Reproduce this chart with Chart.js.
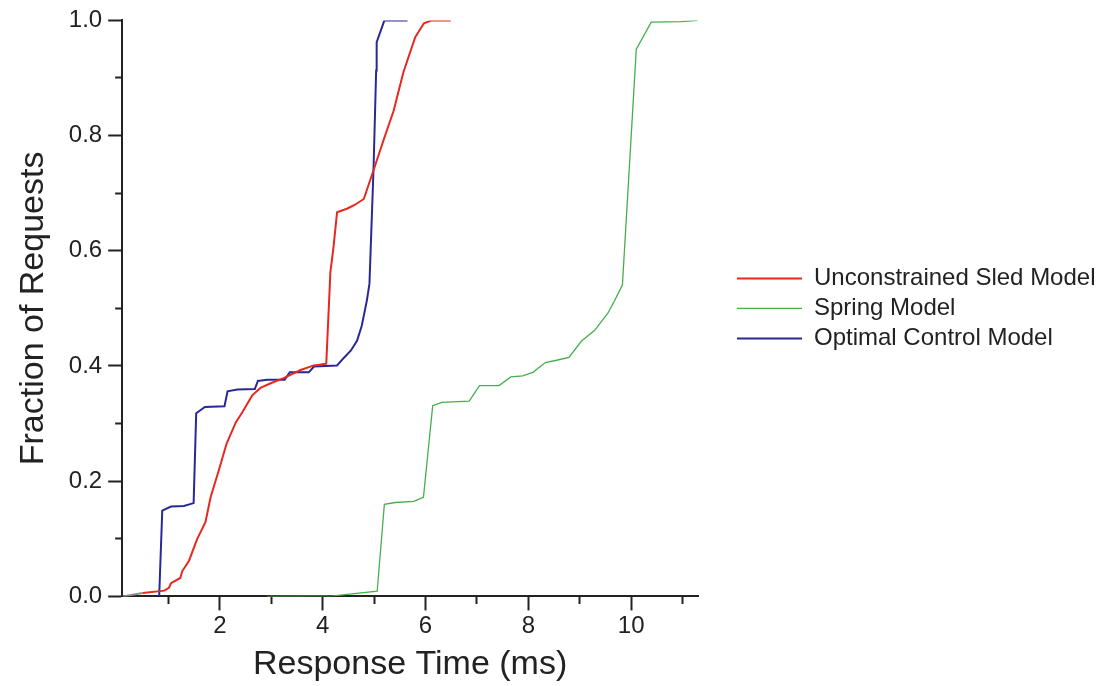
<!DOCTYPE html>
<html>
<head>
<meta charset="utf-8">
<script src="https://cdn.jsdelivr.net/npm/chart.js@4"></script>
<style>
  html, body { margin: 0; padding: 0; background: #fff; }
  #wrap { width: 1100px; height: 686px; }
</style>
</head>
<body>
<div id="wrap"><canvas id="myChart"></canvas></div>
<script>
const sledX = [0.11, 0.50, 0.92, 1.01, 1.05, 1.23, 1.27, 1.40, 1.56, 1.72, 1.82, 1.98, 2.13, 2.31, 2.44, 2.63, 2.79, 2.99, 3.24, 3.57, 3.83, 4.07, 4.15, 4.21, 4.28, 4.47, 4.63, 4.80, 4.91, 5.02, 5.18, 5.38, 5.57, 5.80, 5.97, 6.12, 6.49];
const sledY = [0, 0.006, 0.010, 0.015, 0.023, 0.032, 0.044, 0.062, 0.100, 0.129, 0.172, 0.219, 0.265, 0.302, 0.320, 0.349, 0.362, 0.370, 0.379, 0.393, 0.401, 0.404, 0.563, 0.606, 0.667, 0.673, 0.680, 0.690, 0.719, 0.748, 0.791, 0.843, 0.910, 0.971, 0.995, 1.0, 1.0];

const springX = [2.92, 4.21, 5.06, 5.20, 5.41, 5.77, 5.96, 6.14, 6.32, 6.85, 7.05, 7.43, 7.66, 7.89, 8.09, 8.33, 8.55, 8.79, 9.03, 9.29, 9.55, 9.68, 9.83, 10.10, 10.39, 10.97, 11.29];
const springY = [0, 0.001, 0.009, 0.160, 0.163, 0.165, 0.172, 0.331, 0.337, 0.339, 0.366, 0.366, 0.381, 0.383, 0.389, 0.406, 0.410, 0.415, 0.443, 0.462, 0.492, 0.514, 0.541, 0.950, 0.997, 0.998, 1.0];

const optimalX = [0.82, 0.88, 1.05, 1.30, 1.49, 1.54, 1.71, 2.09, 2.15, 2.34, 2.68, 2.74, 2.92, 3.26, 3.36, 3.73, 3.83, 4.28, 4.41, 4.55, 4.67, 4.76, 4.86, 4.91, 4.99, 5.04, 5.05, 5.20, 5.65];
const optimalY = [0, 0.149, 0.156, 0.157, 0.162, 0.318, 0.329, 0.330, 0.356, 0.359, 0.360, 0.374, 0.376, 0.376, 0.389, 0.389, 0.399, 0.401, 0.414, 0.427, 0.444, 0.470, 0.514, 0.543, 0.745, 0.913, 0.962, 1.0, 1.0];

const xTickValues = [1, 2, 3, 4, 5, 6, 7, 8, 9, 10, 11];
const yTickValues = [0, 0.1, 0.2, 0.3, 0.4, 0.5, 0.6, 0.7, 0.8, 0.9, 1.0];

function points(xs, ys) {
    return xs.map((x, i) => ({ x: x, y: ys[i] }));
}

const textColor = '#222';
Chart.defaults.font.family = "'Liberation Sans', Arial, sans-serif";
Chart.defaults.color = textColor;

const data = {
    datasets: [
        {
            label: 'Unconstrained Sled Model',
            data: points(sledX, sledY),
            borderColor: 'rgb(232, 40, 30)',
            backgroundColor: 'rgb(232, 40, 30)',
            borderWidth: 2,
            segment: {
                borderColor: ctx => ctx.p0DataIndex === 0 ? 'rgb(140, 140, 140)' : undefined
            }
        },
        {
            label: 'Spring Model',
            data: points(springX, springY),
            borderColor: 'rgb(70, 175, 75)',
            backgroundColor: 'rgb(70, 175, 75)',
            borderWidth: 1.3,
        },
        {
            label: 'Optimal Control Model',
            data: points(optimalX, optimalY),
            borderColor: 'rgb(40, 40, 150)',
            backgroundColor: 'rgb(40, 40, 150)',
            borderWidth: 2,
        },
    ]
};

const config = {
    type: 'line',
    data: data,
    options: {
        responsive: true,
        maintainAspectRatio: false,
        animation: false,
        elements: {
            point: { radius: 0, hoverRadius: 0 },
            line: { tension: 0 }
        },
        layout: {
            padding: { top: 5, left: 0, right: 0, bottom: 0 }
        },
        plugins: {
            tooltip: { enabled: false },
            legend: {
                position: 'right',
                fullSize: false,
                maxWidth: 369,
                labels: {
                    usePointStyle: true,
                    pointStyle: 'line',
                    pointStyleWidth: 65,
                    padding: 6,
                    color: textColor,
                    font: { size: 24 }
                }
            }
        },
        scales: {
            x: {
                type: 'linear',
                min: 0.1,
                max: 11.3,
                afterBuildTicks: scale => {
                    scale.ticks = xTickValues.map(v => ({ value: v }));
                },
                grid: {
                    drawOnChartArea: false,
                    tickLength: 14,
                    tickWidth: 2,
                    tickColor: '#222',
                    tickBorderDash: ctx => (ctx.tick && ctx.tick.value % 2 === 1) ? [7, 30] : []
                },
                border: { color: '#222', width: 2 },
                ticks: {
                    autoSkip: false,
                    maxRotation: 0,
                    padding: 2,
                    font: { size: 24 },
                    callback: v => v % 2 === 0 ? String(v) : ''
                },
                title: {
                    display: true,
                    text: 'Response Time (ms)',
                    font: { size: 34 },
                    padding: { top: 1, bottom: 1 }
                }
            },
            y: {
                type: 'linear',
                min: 0,
                max: 1,
                afterBuildTicks: scale => {
                    scale.ticks = yTickValues.map(v => ({ value: v }));
                },
                grid: {
                    drawOnChartArea: false,
                    tickLength: 14,
                    tickWidth: 2,
                    tickColor: '#222',
                    tickBorderDash: ctx => (ctx.tick && Math.round(ctx.tick.value * 10) % 2 === 1) ? [0, 7, 30] : []
                },
                border: { color: '#222', width: 2 },
                ticks: {
                    autoSkip: false,
                    padding: 6,
                    font: { size: 24 },
                    callback: v => Math.round(v * 10) % 2 === 0 ? v.toFixed(1) : ''
                },
                title: {
                    display: true,
                    text: 'Fraction of Requests',
                    font: { size: 34 },
                    padding: { top: 13, bottom: 9 }
                }
            },
            gap: {
                type: 'linear',
                position: 'right',
                display: true,
                grid: { display: false },
                border: { display: false },
                ticks: { display: false },
                afterFit: scale => { scale.width = 33; }
            }
        }
    }
};

const myChart = new Chart(
    document.getElementById('myChart'),
    config
);
</script>
</body>
</html>
